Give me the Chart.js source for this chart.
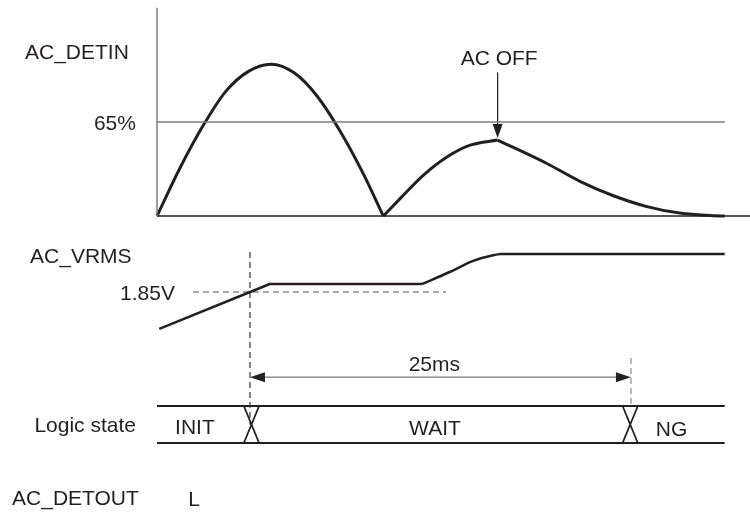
<!DOCTYPE html>
<html>
<head>
<meta charset="utf-8">
<script src="https://cdn.jsdelivr.net/npm/chart.js@4/dist/chart.umd.min.js"></script>
<style>
  html, body { margin: 0; padding: 0; background: #fff; }
  #timing { display: block; }
</style>
</head>
<body>
<canvas id="timing" width="750" height="515"></canvas>
<script>
'use strict';

/* ── Data (time in ms, 0 = left edge of the AC_DETIN frame) ───── */
const laneNames      = ['AC_DETIN', 'AC_VRMS', 'Logic state', 'AC_DETOUT'];
const stateNames     = ['INIT', 'WAIT', 'NG'];
const stateSwitchMs  = [6.2, 31.05];
const markerMs       = [6.1, 31.1];          // the 25 ms window
const windowLabel    = '25ms';
const thresholdPct   = 65;
const vrmsThresholdV = 1.85;
const acOffMs        = 22.35;
const detoutLevel    = 'L';
const frameEndMs     = 37.25;

// AC_DETIN, % of the rectified input
const detinHalfMs  = [0, 1.5, 3, 4.5, 6, 7.5, 9, 10.5, 12, 13.5, 14.85];
const detinHalfPct = [0, 33, 62, 86, 100, 105, 99, 83, 59, 30, 0];
const detinRiseMs  = [14.85, 15.95, 17.45, 19.05, 20.55, 22.35];
const detinRisePct = [0, 12, 28, 41, 49, 52.5];
const detinFallMs  = [22.35, 25.55, 27.75, 29.95, 32.15, 34.3, 36.5, 37.25];
const detinFallPct = [52.5, 36.5, 24, 14, 6.5, 2, 0.2, 0];

// AC_VRMS, volts
const vrmsRampMs = [0.15, 7.4, 17.4];
const vrmsRampV  = [1.39, 1.95, 1.95];
const vrmsRiseMs = [17.4, 19.2, 20.75, 22.05, 22.5];
const vrmsRiseV  = [1.95, 2.10, 2.24, 2.31, 2.325];
const vrmsTopMs  = [22.5, 37.25];
const vrmsTopV   = [2.325, 2.325];

/* ── Layout ─────────────────────────────────────────────────── */
const W = 750, H = 515;
const INK = '#231f20', GREY = '#7d7d7d', DASH = '#555';
const FONT = '21px "Liberation Sans", Arial, sans-serif';

// a y-scale where refValue sits at refPx (from top), pxPerUnit up
function laneY(refValue, refPx, pxPerUnit) {
    return { min: refValue - (H - refPx) / pxPerUnit, max: refValue + refPx / pxPerUnit };
}
const xPxPerMs = 15.24, xZeroPx = 157;
const xRange = { min: -xZeroPx / xPxPerMs, max: (W - xZeroPx) / xPxPerMs };

function pts(xs, ys) { return xs.map(function (x, i) { return { x: x, y: ys[i] }; }); }

function line(data, axis, opts) {
    return Object.assign({
        data: data, yAxisID: axis, borderColor: INK, borderWidth: 2,
        pointRadius: 0, tension: 0, fill: false, borderJoinStyle: 'round',
    }, opts || {});
}

var datasets = [
    // AC_DETIN frame
    line([{ x: 0, y: 0 }, { x: 0, y: 144 }], 'yDet', { borderColor: GREY, borderWidth: 1.5 }),
    line([{ x: 0, y: 0 }, { x: xRange.max, y: 0 }], 'yDet', { borderWidth: 1.5 }),
    line([{ x: 0, y: thresholdPct }, { x: frameEndMs, y: thresholdPct }], 'yDet', { borderColor: GREY, borderWidth: 1.5 }),
    // AC_DETIN waveform
    line(pts(detinHalfMs, detinHalfPct), 'yDet', { borderWidth: 3, cubicInterpolationMode: 'monotone' }),
    line(pts(detinRiseMs, detinRisePct), 'yDet', { borderWidth: 3, cubicInterpolationMode: 'monotone' }),
    line(pts(detinFallMs, detinFallPct), 'yDet', { borderWidth: 3, cubicInterpolationMode: 'monotone' }),
    // AC OFF arrow shaft
    line([{ x: acOffMs, y: 99 }, { x: acOffMs, y: 62 }], 'yDet', { borderWidth: 1.2 }),
    // AC_VRMS
    line(pts(vrmsRampMs, vrmsRampV), 'yV', { borderWidth: 2.5 }),
    line(pts(vrmsRiseMs, vrmsRiseV), 'yV', { borderWidth: 2.5, cubicInterpolationMode: 'monotone' }),
    line(pts(vrmsTopMs, vrmsTopV), 'yV', { borderWidth: 2.5 }),
    line([{ x: 2.36, y: vrmsThresholdV }, { x: 18.96, y: vrmsThresholdV }], 'yV',
         { borderColor: DASH, borderWidth: 1.2, borderDash: [6, 4] }),
    // 25 ms markers
    line([{ x: markerMs[0], y: 5.16 }, { x: markerMs[0], y: 0.5 }], 'yL',
         { borderColor: '#333', borderWidth: 1.2, borderDash: [6, 4] }),
    line([{ x: markerMs[1], y: 2.3 }, { x: markerMs[1], y: 1.0 }], 'yL',
         { borderColor: '#888', borderWidth: 1.2, borderDash: [6, 4] }),
    line([{ x: markerMs[0] + 0.9, y: 1.78 }, { x: markerMs[1] - 0.9, y: 1.78 }], 'yL',
         { borderColor: '#555', borderWidth: 1 }),
    // Logic state bus
    line([{ x: 0, y: 1 }, { x: frameEndMs, y: 1 }], 'yL'),
    line([{ x: 0, y: 0 }, { x: frameEndMs, y: 0 }], 'yL'),
];
stateSwitchMs.forEach(function (t) {
    var hw = 0.5;
    datasets.push(line([{ x: t - hw, y: 1 }, { x: t + hw, y: 0 }], 'yL', { borderWidth: 1.8 }));
    datasets.push(line([{ x: t + hw, y: 1 }, { x: t - hw, y: 0 }], 'yL', { borderWidth: 1.8 }));
});

/* ── Arrowheads + texts ─────────────────────────────────────── */
function head(ctx, x, y, dx, dy, len, half) {
    ctx.beginPath();
    ctx.moveTo(x, y);
    ctx.lineTo(x - dx * len - dy * half, y - dy * len + dx * half);
    ctx.lineTo(x - dx * len + dy * half, y - dy * len - dx * half);
    ctx.closePath();
    ctx.fill();
}

const annotate = {
    id: 'annotate',
    afterDatasetsDraw: function (chart) {
        var ctx = chart.ctx, s = chart.scales;
        var px = function (t) { return s.x.getPixelForValue(t); };
        ctx.save();
        ctx.fillStyle = INK;

        // AC OFF arrow (down), 25 ms arrows (outwards)
        head(ctx, px(acOffMs), s.yDet.getPixelForValue(54), 0, 1, 14, 5);
        var ya = s.yL.getPixelForValue(1.78);
        head(ctx, px(markerMs[0]), ya, -1, 0, 15, 5);
        head(ctx, px(markerMs[1]), ya, 1, 0, 15, 5);

        var texts = [
            [laneNames[0], -8.66, 114, 'yDet', 'left'],
            [thresholdPct + '%', -1.38, 64.7, 'yDet', 'right'],
            ['AC OFF', acOffMs + 0.1, 109.6, 'yDet', 'center'],
            [laneNames[1], -8.33, 2.306, 'yV', 'left'],
            [vrmsThresholdV.toFixed(2) + 'V', 1.18, vrmsThresholdV, 'yV', 'right'],
            [windowLabel, 18.2, 2.15, 'yL', 'center'],
            [laneNames[2], -1.38, 0.51, 'yL', 'right'],
            [stateNames[0], 2.49, 0.45, 'yL', 'center'],
            [stateNames[1], 18.24, 0.42, 'yL', 'center'],
            [stateNames[2], 33.76, 0.38, 'yL', 'center'],
            [laneNames[3], -9.51, -1.47, 'yL', 'left'],
            [detoutLevel, 2.43, -1.51, 'yL', 'center'],
        ];
        ctx.font = FONT;
        ctx.textBaseline = 'alphabetic';
        texts.forEach(function (t) {
            ctx.textAlign = t[4];
            // baseline = centre of the cap height
            ctx.fillText(t[0], px(t[1]), s[t[3]].getPixelForValue(t[2]) + 7.5);
        });
        ctx.restore();
    },
};

new Chart(document.getElementById('timing').getContext('2d'), {
    type: 'line',
    data: { datasets: datasets },
    options: {
        responsive: false,
        devicePixelRatio: 1,
        animation: false,
        events: [],
        layout: { padding: 0 },
        plugins: { legend: { display: false }, tooltip: { enabled: false } },
        scales: {
            x:    Object.assign({ type: 'linear', display: false }, xRange),
            yDet: Object.assign({ type: 'linear', display: false }, laneY(0, 216, 94 / 65)),
            yV:   Object.assign({ type: 'linear', display: false }, laneY(vrmsThresholdV, 292, 80)),
            yL:   Object.assign({ type: 'linear', display: false }, laneY(0, 443, 37)),
        },
    },
    plugins: [annotate],
});
</script>
</body>
</html>
